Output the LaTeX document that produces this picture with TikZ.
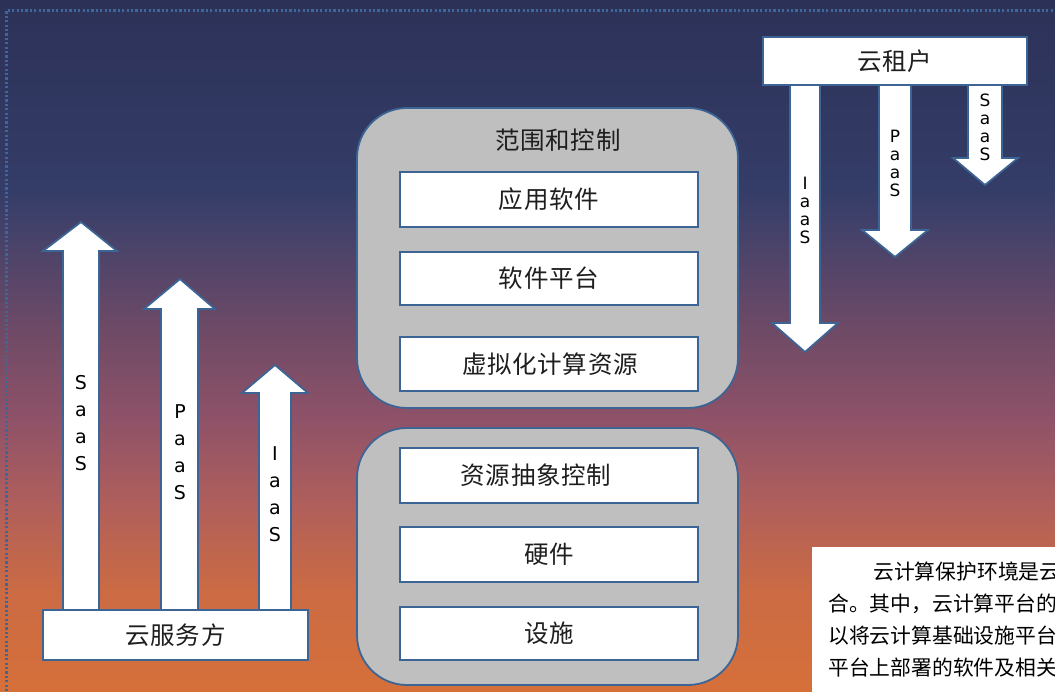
\documentclass[tikz,border=0pt]{standalone}
\usepackage{fontspec}
\setmainfont{Noto Sans CJK SC}
\newfontfamily\cjkwide[LetterSpace=3]{Noto Sans CJK SC}
\newfontfamily\latinsf{DejaVu Sans}
\definecolor{bdr}{HTML}{3C6494}
\definecolor{grp}{HTML}{BFBFBF}
\definecolor{dotc}{HTML}{3F6699}
\definecolor{txt}{HTML}{1E1E1E}
\definecolor{g0}{HTML}{2C3157}
\definecolor{g1}{HTML}{343D68}
\definecolor{g2}{HTML}{46426A}
\definecolor{g3}{HTML}{6E4A66}
\definecolor{g4}{HTML}{8F5268}
\definecolor{g5}{HTML}{AE5E5C}
\definecolor{g6}{HTML}{CB6B44}
\definecolor{g7}{HTML}{D6703A}
\begin{document}
\begin{tikzpicture}[x=1pt,y=-1pt,
  box/.style={draw=bdr, fill=white, line width=1.6pt, inner sep=0pt},
  arr/.style={draw=bdr, fill=white, line width=1.8pt, line join=miter},
  grpbox/.style={draw=bdr, fill=grp, line width=1.8pt, rounded corners=50pt},
  cjk/.style={font=\cjkwide\fontsize{24.5}{24.5}\selectfont, text=txt, inner sep=0pt},
  para/.style={font=\fontsize{20.8}{20.8}\selectfont, text=black, inner sep=0pt, anchor=west},
  vl/.style={font=\latinsf\fontsize{19}{27}\selectfont, text=black, align=center, inner sep=0pt},
  vs/.style={font=\latinsf\fontsize{17}{18}\selectfont, text=black, align=center, inner sep=0pt}
]
\useasboundingbox (0,0) rectangle (1055,692);
\clip (0,0) rectangle (1055,692);
% background gradient
\shade[top color=g0, bottom color=g1] (0,-1) rectangle (1055,190.5);
\shade[top color=g1, bottom color=g2] (0,190) rectangle (1055,235.5);
\shade[top color=g2, bottom color=g3] (0,235) rectangle (1055,330.5);
\shade[top color=g3, bottom color=g4] (0,330) rectangle (1055,420.5);
\shade[top color=g4, bottom color=g5] (0,420) rectangle (1055,500.5);
\shade[top color=g5, bottom color=g6] (0,500) rectangle (1055,590.5);
\shade[top color=g6, bottom color=g7] (0,590) rectangle (1055,693);
% dotted frame
\draw[dotc, line width=2.3pt, dash pattern=on 2.2pt off 2.2pt] (6.5,700) -- (6.5,10.5) -- (1060,10.5);

% up arrows (service provider)
\filldraw[arr] (63,612) -- (63,251) -- (43,251) -- (81,222) -- (117,251) -- (99,251) -- (99,612);
\filldraw[arr] (161,612) -- (161,309) -- (144,309) -- (180,279) -- (215,309) -- (198,309) -- (198,612);
\filldraw[arr] (259,612) -- (259,393) -- (242,393) -- (275,365) -- (308,393) -- (291,393) -- (291,612);
\node[vl] (uS) at (81,423) {S\\a\\a\\S};
\node[vl] (uP) at (180,452) {P\\a\\a\\S};
\node[vl] (uI) at (275,494) {I\\a\\a\\S};
\node[box, minimum width=265pt, minimum height=50pt] (prov) at (175.5,635) {};
\node[cjk] (provt) at (prov.center) {云服务方};

% down arrows (tenant)
\filldraw[arr] (790,80) -- (790,323) -- (772,323) -- (805,352) -- (838,323) -- (820,323) -- (820,80);
\filldraw[arr] (879,80) -- (879,230) -- (862,230) -- (895,257) -- (928,230) -- (911,230) -- (911,80);
\filldraw[arr] (968,80) -- (968,158) -- (953,158) -- (985,185) -- (1018,158) -- (1002,158) -- (1002,80);
\node[vs] (dI) at (805,210) {I\\a\\a\\S};
\node[vs] (dP) at (895,163) {P\\a\\a\\S};
\node[vs] (dS) at (985,127) {S\\a\\a\\S};
\node[box, minimum width=264pt, minimum height=48pt] (ten) at (895,61) {};
\node[cjk] (tent) at (ten.center) {云租户};

% groups
\filldraw[grpbox] (357,108) rectangle (738,408);
\filldraw[grpbox] (357,428) rectangle (738,685);
\node[cjk] (scope) at (558,140) {范围和控制};
\node[box, minimum width=298pt, minimum height=55pt] (a1) at (549,199.5) {};
\node[cjk] at (a1.center) {应用软件};
\node[box, minimum width=298pt, minimum height=53pt] (a2) at (549,278.5) {};
\node[cjk] at (a2.center) {软件平台};
\node[box, minimum width=298pt, minimum height=54pt] (a3) at (549,364) {};
\node[cjk] at ([xshift=1pt]a3.center) {虚拟化计算资源};
\node[box, minimum width=298pt, minimum height=55pt] (b1) at (549,475.5) {};
\node[cjk] at ([xshift=-13pt]b1.center) {资源抽象控制};
\node[box, minimum width=298pt, minimum height=55pt] (b2) at (549,554.5) {};
\node[cjk] at (b2.center) {硬件};
\node[box, minimum width=298pt, minimum height=53pt] (b3) at (549,633.5) {};
\node[cjk] at (b3.center) {设施};

% paragraph box
\fill[white] (812,547) rectangle (1060,700);
\node[para] (p1) at (873,572) {云计算保护环境是云};
\node[para] (p2) at (828,604) {合。其中，云计算平台的};
\node[para] (p3) at (828,636) {以将云计算基础设施平台};
\node[para] (p4) at (828,668) {平台上部署的软件及相关};
\end{tikzpicture}
\end{document}
